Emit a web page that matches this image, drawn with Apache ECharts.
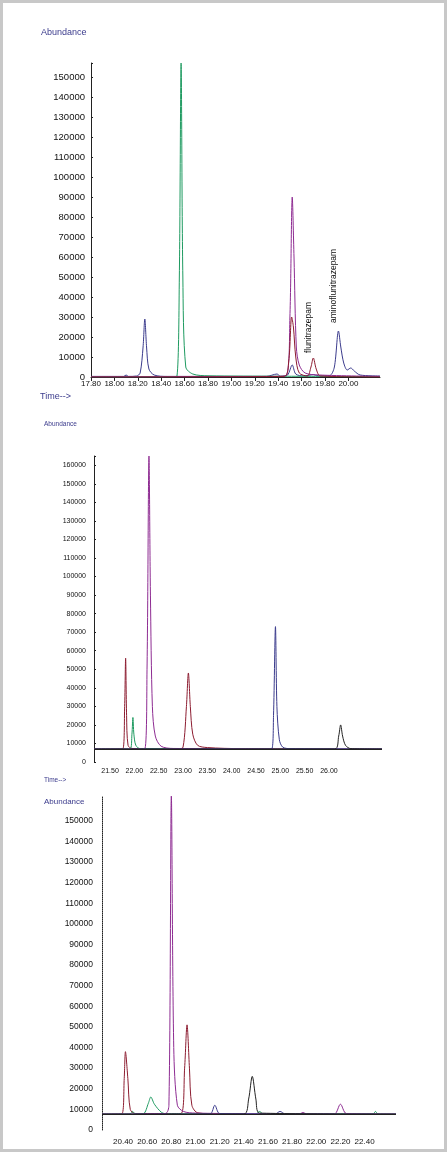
<!DOCTYPE html>
<html><head><meta charset="utf-8">
<script src="https://cdn.jsdelivr.net/npm/echarts@6/dist/echarts.min.js"></script>
<style>html,body{margin:0;padding:0;background:#fff}#c{width:447px;height:1152px;box-sizing:border-box;border:3px solid #c8c8c8}</style>
</head><body><div id="c"></div>
<script>
// Panel 1 (time, abundance)
const p1Blue=[[17.8,300],[18.08,300],[18.1,1000],[18.12,300],[18.19,500],[18.22,2000],[18.245,15000],[18.26,29000],[18.275,15000],[18.295,4000],[18.34,1000],[18.45,300],[19.3,300],[19.39,1500],[19.42,300],[19.48,1000],[19.52,6000],[19.55,1500],[19.62,500],[19.7,1200],[19.75,500],[19.84,700],[19.88,5000],[19.915,23000],[19.935,15000],[19.96,7000],[19.99,3500],[20.02,4500],[20.05,3000],[20.1,1000],[20.27,500]];
const p1Green=[[17.8,100],[18.5,200],[18.535,500],[18.555,50000],[18.57,157000],[18.585,50000],[18.61,5000],[18.67,1500],[18.8,600],[19.4,400],[20.27,200]];
const p1Purple=[[17.8,100],[19.35,300],[19.47,1000],[19.5,30000],[19.52,90000],[19.535,60000],[19.555,15000],[19.58,6000],[19.63,2000],[19.75,1000],[20.27,300]];
const p1Red=[[17.8,0],[19.45,300],[19.49,8000],[19.515,30000],[19.53,25000],[19.55,10000],[19.58,2000],[19.65,500],[19.68,5000],[19.70,9500],[19.725,4000],[19.76,500],[20.27,0]];
const p1Ticks=[17.8,18.0,18.2,18.4,18.6,18.8,19.0,19.2,19.4,19.6,19.8,20.0];
// Panel 2
const p2Red=[[21.17,7000],[21.76,7000],[21.8,30000],[21.82,56000],[21.84,25000],[21.87,9000],[21.95,7300],[22.9,7000],[23.0,8000],[23.07,30000],[23.11,48000],[23.15,30000],[23.2,15000],[23.3,9000],[23.5,7800],[24.2,7200],[27.09,7000]];
const p2Green=[[21.17,7000],[21.91,7000],[21.95,15000],[21.97,24000],[21.99,15000],[22.03,9000],[22.12,7200],[27.09,7000]];
const p2Purple=[[21.17,7000],[22.21,7000],[22.26,50000],[22.30,165000],[22.33,90000],[22.37,30000],[22.43,14000],[22.55,8500],[22.8,7300],[27.09,7000]];
const p2Blue=[[21.17,7000],[24.82,7000],[24.86,25000],[24.90,73000],[24.93,30000],[24.98,12000],[25.05,8000],[25.2,7200],[27.09,7000]];
const p2Black=[[21.17,7000],[26.12,7000],[26.2,14000],[26.24,20000],[26.28,14000],[26.34,9000],[26.45,7200],[27.09,7000]];
const p2Ticks=[21.5,22.0,22.5,23.0,23.5,24.0,24.5,25.0,25.5,26.0];
// Panel 3
const p3Red=[[20.226,7700],[20.39,7800],[20.41,25000],[20.42,38000],[20.44,25000],[20.46,10000],[20.5,8000],[20.88,8000],[20.91,30000],[20.93,51000],[20.95,30000],[20.97,12000],[21.02,8300],[21.2,7800],[22.66,7700]];
const p3Green=[[20.226,7700],[20.46,7800],[20.48,9000],[20.5,7800],[20.57,8000],[20.61,13000],[20.63,16000],[20.66,12500],[20.72,8500],[20.77,7800],[21.5,7800],[21.53,9000],[21.56,7800],[22.47,7800],[22.49,9000],[22.51,7800],[22.66,7700]];
const p3Purple=[[20.226,7700],[20.75,8000],[20.78,12000],[20.80,162000],[20.82,40000],[20.85,12000],[20.9,9000],[21.0,8200],[21.86,7800],[21.89,8500],[21.92,7800],[22.15,7800],[22.2,12500],[22.25,8000],[22.66,7700]];
const p3Blue=[[20.226,7700],[21.12,7800],[21.16,12000],[21.2,8000],[21.66,7800],[21.70,9000],[21.74,7900],[22.66,7700]];
const p3Black=[[20.226,7700],[21.4,7700],[21.44,15000],[21.47,26000],[21.5,15000],[21.53,8200],[22.66,7700]];
const p3Ticks=[20.4,20.6,20.8,21.0,21.2,21.4,21.6,21.8,22.0,22.2,22.4];

const C={blue:'#3b3b8c',green:'#1e9a60',purple:'#8e2c92',red:'#8c1c30',black:'#222'};
const chart=echarts.init(document.getElementById('c'));
function ln(data,color,i,extra){return Object.assign({type:'line',data,xAxisIndex:i,yAxisIndex:i,showSymbol:false,symbol:'none',smooth:0.3,lineStyle:{color,width:1},color,animation:false,z:3},extra||{});}
function base(v){return {silent:true,symbol:'none',label:{show:false},lineStyle:{color:'#222',width:1,type:'solid'},data:[{yAxis:v}]};}
const fmt=v=>v.toFixed(2);
const yf=lim=>v=>v>lim?'':String(v);
const txt={fill:'#3b3b8c',fontFamily:'Liberation Sans, Arial, sans-serif'};
function gr(){return [
  {type:'text',left:38,top:25,style:Object.assign({text:'Abundance',fontSize:9},txt)},
  {type:'text',left:37,top:389,style:Object.assign({text:'Time-->',fontSize:9},txt)},
  {type:'text',left:41,top:418,style:Object.assign({text:'Abundance',fontSize:6.5},txt)},
  {type:'text',left:41,top:774,style:Object.assign({text:'Time-->',fontSize:6.5},txt)},
  {type:'text',left:41,top:795,style:Object.assign({text:'Abundance',fontSize:8},txt)}];}
chart.setOption({
 animation:false,
 textStyle:{fontFamily:'Liberation Sans, Arial, sans-serif'},
 grid:[{left:88,top:60,width:289,height:314},{left:91,top:453,width:288,height:306},{left:99,top:793,width:294,height:334}],
 xAxis:[
  {gridIndex:0,type:'value',min:17.8,max:20.27,splitLine:{show:false},axisLine:{lineStyle:{color:'#222'}},axisTick:{customValues:p1Ticks,length:4,lineStyle:{color:'#222'}},axisLabel:{customValues:p1Ticks,color:'#111',fontSize:8,margin:3,formatter:fmt}},
  {gridIndex:1,type:'value',min:21.17,max:27.09,splitLine:{show:false},axisLine:{show:false},axisTick:{show:false},axisLabel:{customValues:p2Ticks,color:'#111',fontSize:7,margin:6,formatter:fmt}},
  {gridIndex:2,type:'value',min:20.226,max:22.66,splitLine:{show:false},axisLine:{show:false},axisTick:{show:false},axisLabel:{customValues:p3Ticks,color:'#111',fontSize:8,margin:8,formatter:fmt}}
 ],
 yAxis:[
  {gridIndex:0,type:'value',min:0,max:157000,interval:10000,splitLine:{show:false},axisLine:{show:true,lineStyle:{color:'#222'}},axisTick:{show:true,length:2,inside:true},axisLabel:{color:'#111',fontSize:9.5,margin:6,formatter:yf(150000)}},
  {gridIndex:1,type:'value',min:0,max:165000,interval:10000,splitLine:{show:false},axisLine:{show:true,lineStyle:{color:'#222'}},axisTick:{show:true,length:2,inside:true},axisLabel:{color:'#111',fontSize:7,margin:8,formatter:yf(160000)}},
  {gridIndex:2,type:'value',min:0,max:162000,interval:10000,splitLine:{show:false},axisLine:{show:true,lineStyle:{color:'#222',type:'dotted'}},axisTick:{show:false},axisLabel:{color:'#111',fontSize:8.5,margin:9,formatter:yf(150000)}}
 ],
 series:[
  ln(p1Blue,C.blue,0),ln(p1Green,C.green,0),ln(p1Purple,C.purple,0),ln(p1Red,C.red,0),
  ln(p2Red,C.red,1,{markLine:base(7000)}),ln(p2Green,C.green,1),ln(p2Purple,C.purple,1),ln(p2Blue,C.blue,1),ln(p2Black,C.black,1),
  ln(p3Red,C.red,2,{markLine:base(7700)}),ln(p3Green,C.green,2),ln(p3Purple,C.purple,2),ln(p3Blue,C.blue,2),ln(p3Black,C.black,2)
 ],
 graphic:gr()
});
const a=chart.convertToPixel({xAxisIndex:0,yAxisIndex:0},[19.70,12000]);
const b=chart.convertToPixel({xAxisIndex:0,yAxisIndex:0},[19.915,27000]);
chart.setOption({graphic:gr().concat([
  {type:'text',x:a[0]-5,y:a[1],rotation:Math.PI/2,style:{text:'flunitrazepam',fontSize:8.5,fill:'#111',align:'left',verticalAlign:'middle'}},
  {type:'text',x:b[0]-5,y:b[1],rotation:Math.PI/2,style:{text:'aminoflunitrazepam',fontSize:8.5,fill:'#111',align:'left',verticalAlign:'middle'}}
])},{replaceMerge:['graphic']});
</script></body></html>
